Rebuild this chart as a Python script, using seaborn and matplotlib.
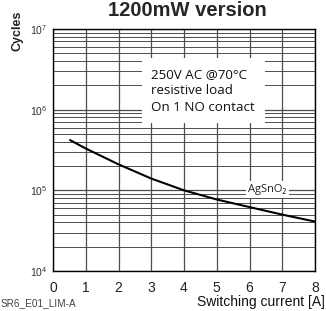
import matplotlib
matplotlib.use('Agg')
import matplotlib.pyplot as plt
import seaborn as sns
import pandas as pd
from matplotlib.ticker import LogLocator, LogFormatterSciNotation, FixedLocator

# curve
current = [0.52, 1, 2, 3, 4, 5, 6, 7, 8]
cycles = [4.2e5, 3.3e5, 2.1e5, 1.4e5, 1.0e5, 7.7e4, 6.2e4, 5.0e4, 4.1e4]
x_ticks = [0, 1, 2, 3, 4, 5, 6, 7, 8]
y_ticks = [1e4, 1e5, 1e6, 1e7]

title = '1200mW version'
y_label = 'Cycles'
x_label = 'Switching current [A]'
note = '250V AC @70°C\nresistive load\nOn 1 NO contact'
curve_label = 'AgSnO₂'
doc_code = 'SR6_E01_LIM-A'

sns.set_style('white')
plt.rcParams['font.family'] = ['Liberation Sans', 'DejaVu Sans']

df = pd.DataFrame({'current': current, 'cycles': cycles})

fig = plt.figure(figsize=(3.26, 3.11), dpi=100)
ax = fig.add_axes([53 / 326, 40 / 311, 262 / 326, 242 / 311])

ax.set_yscale('log')
ax.set_xlim(0, 8)
ax.set_ylim(1e4, 1e7)

# grid like log paper
grid_col = '#4d4d4d'
ax.xaxis.set_major_locator(FixedLocator(x_ticks))
ax.yaxis.set_major_locator(FixedLocator(y_ticks))
ax.yaxis.set_minor_locator(LogLocator(base=10, subs=range(2, 10)))
ax.yaxis.set_major_formatter(LogFormatterSciNotation())
ax.grid(True, which='major', axis='both', color=grid_col, lw=0.9)
ax.grid(True, which='minor', axis='y', color=grid_col, lw=0.7)

sns.lineplot(data=df, x='current', y='cycles', color='black', lw=1.5, ax=ax)

for s in ax.spines.values():
    s.set_color('black')
    s.set_linewidth(1.0)

ax.tick_params(axis='x', length=0, pad=7, labelsize=10, labelcolor='#222222')
ax.tick_params(axis='y', which='both', length=0, pad=4, labelsize=7.5, labelcolor='#333333')
ax.set_xlabel('')
ax.set_ylabel('')

box_font = ['Open Sans', 'DejaVu Sans']
ax.text(0.375, 0.745, note, transform=ax.transAxes, ha='left', va='center',
        fontsize=9.6, family=box_font, color='#111111', linespacing=1.35,
        bbox=dict(facecolor='white', edgecolor='none', pad=7), zorder=5)
ax.text(6.55, 1.02e5, curve_label, ha='center', va='center', fontsize=8,
        family=box_font, color='#222222',
        bbox=dict(facecolor='white', edgecolor='none', pad=2), zorder=5)

fig.text(187 / 326, 1 - 11 / 311, title, ha='center', va='center',
         fontsize=14.5, fontweight='bold')
fig.text(17 / 326, 1 - 31 / 311, y_label, ha='center', va='center',
         rotation=90, fontsize=9, fontweight='bold', color='#222222')
fig.text(325 / 326, 1 - 302 / 311, x_label, ha='right', va='center',
         fontsize=10, color='#111111')
fig.text(1 / 326, 1 - 303 / 311, doc_code, ha='left', va='center',
         fontsize=7.2, color='#444444')

fig.savefig('out.png', dpi=100)
